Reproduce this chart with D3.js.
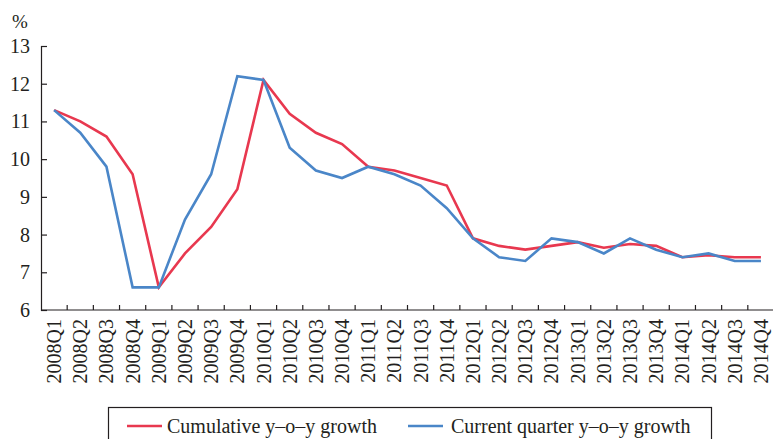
<!DOCTYPE html>
<html>
<head>
<meta charset="utf-8">
<script src="https://cdn.jsdelivr.net/npm/d3@7"></script>
<style>
  body { margin: 0; background: #fff; }
</style>
</head>
<body>
<svg id="chart" width="773" height="439"></svg>
<script>
// quarters on the x axis
var quarters = [
  '2008Q1','2008Q2','2008Q3','2008Q4',
  '2009Q1','2009Q2','2009Q3','2009Q4',
  '2010Q1','2010Q2','2010Q3','2010Q4',
  '2011Q1','2011Q2','2011Q3','2011Q4',
  '2012Q1','2012Q2','2012Q3','2012Q4',
  '2013Q1','2013Q2','2013Q3','2013Q4',
  '2014Q1','2014Q2','2014Q3','2014Q4'
];

// cumulative y-o-y growth (%)
var cumulative = [
  11.3, 11.0, 10.6, 9.6,
  6.6, 7.5, 8.2, 9.2,
  12.1, 11.2, 10.7, 10.4,
  9.8, 9.7, 9.5, 9.3,
  7.9, 7.7, 7.6, 7.7,
  7.8, 7.65, 7.75, 7.7,
  7.4, 7.45, 7.4, 7.4
];

// current quarter y-o-y growth (%)
var currentQuarter = [
  11.3, 10.7, 9.8, 6.6,
  6.6, 8.4, 9.6, 12.2,
  12.1, 10.3, 9.7, 9.5,
  9.8, 9.6, 9.3, 8.7,
  7.9, 7.4, 7.3, 7.9,
  7.8, 7.5, 7.9, 7.6,
  7.4, 7.5, 7.3, 7.3
];

var yTicks = [6, 7, 8, 9, 10, 11, 12, 13];

var seriesNames = ['Cumulative y\u2013o\u2013y growth', 'Current quarter y\u2013o\u2013y growth'];
var seriesColors = ['#e8384f', '#4a86c8'];

var FONT = "'Liberation Serif'";
var INK = '#231f20';

var svg = d3.select('#chart');

var x = d3.scaleBand().domain(quarters).range([41, 774]).padding(0);
var y = d3.scaleLinear().domain([6, 13]).range([310, 46]);

// y axis, ticks point inward
var yAxis = svg.append('g')
  .attr('transform', 'translate(41,0)')
  .call(d3.axisRight(y).tickValues(yTicks).tickSize(6).tickFormat(''));
yAxis.select('.domain').attr('stroke', INK).attr('stroke-width', 1.2);
yAxis.selectAll('.tick line').attr('stroke', INK).attr('stroke-width', 1.2);

svg.append('g').selectAll('text')
  .data(yTicks)
  .enter()
  .append('text')
  .attr('x', 30)
  .attr('y', function (d) { return y(d); })
  .attr('dy', '0.35em')
  .attr('text-anchor', 'end')
  .style('font-family', FONT)
  .style('font-size', '20px')
  .attr('fill', INK)
  .text(function (d) { return d; });

svg.append('text')
  .attr('x', 12)
  .attr('y', 28)
  .style('font-family', FONT)
  .style('font-size', '19px')
  .attr('fill', INK)
  .text('%');

// x axis line, ticks sit on the band edges
svg.append('line')
  .attr('x1', 41).attr('x2', 773)
  .attr('y1', y(6)).attr('y2', y(6))
  .attr('stroke', INK).attr('stroke-width', 1.2);

svg.append('g').selectAll('line')
  .data(quarters.slice(1))
  .enter()
  .append('line')
  .attr('x1', function (d) { return x(d); })
  .attr('x2', function (d) { return x(d); })
  .attr('y1', y(6))
  .attr('y2', y(6) - 5)
  .attr('stroke', INK).attr('stroke-width', 1.2);

svg.append('g').selectAll('text')
  .data(quarters)
  .enter()
  .append('text')
  .attr('transform', function (d) {
    return 'translate(' + (x(d) + x.bandwidth() / 2) + ',' + (y(6) + 9) + ') rotate(-90)';
  })
  .attr('dy', '0.35em')
  .attr('text-anchor', 'end')
  .style('font-family', FONT)
  .style('font-size', '20px')
  .attr('fill', INK)
  .text(function (d) { return d; });

// the two series
var line = d3.line()
  .x(function (d, i) { return x(quarters[i]) + x.bandwidth() / 2; })
  .y(function (d) { return y(d); });

[cumulative, currentQuarter].forEach(function (values, i) {
  svg.append('path')
    .datum(values)
    .attr('fill', 'none')
    .attr('stroke', seriesColors[i])
    .attr('stroke-width', 2.6)
    .attr('d', line);
});

// legend box (runs off the bottom edge like the original)
var legend = svg.append('g');
legend.append('rect')
  .attr('x', 108.5).attr('y', 407.5)
  .attr('width', 603).attr('height', 40)
  .attr('fill', 'none')
  .attr('stroke', INK).attr('stroke-width', 1.2);

var legendX = [127, 408];
var legendTextX = [167, 451];
seriesNames.forEach(function (name, i) {
  legend.append('line')
    .attr('x1', legendX[i]).attr('x2', legendX[i] + 35)
    .attr('y1', 426).attr('y2', 426)
    .attr('stroke', seriesColors[i]).attr('stroke-width', 2.6);
  legend.append('text')
    .attr('x', legendTextX[i])
    .attr('y', 426)
    .attr('dy', '0.35em')
    .style('font-family', FONT)
    .style('font-size', '20px')
    .attr('fill', INK)
    .text(name);
});
</script>
</body>
</html>
